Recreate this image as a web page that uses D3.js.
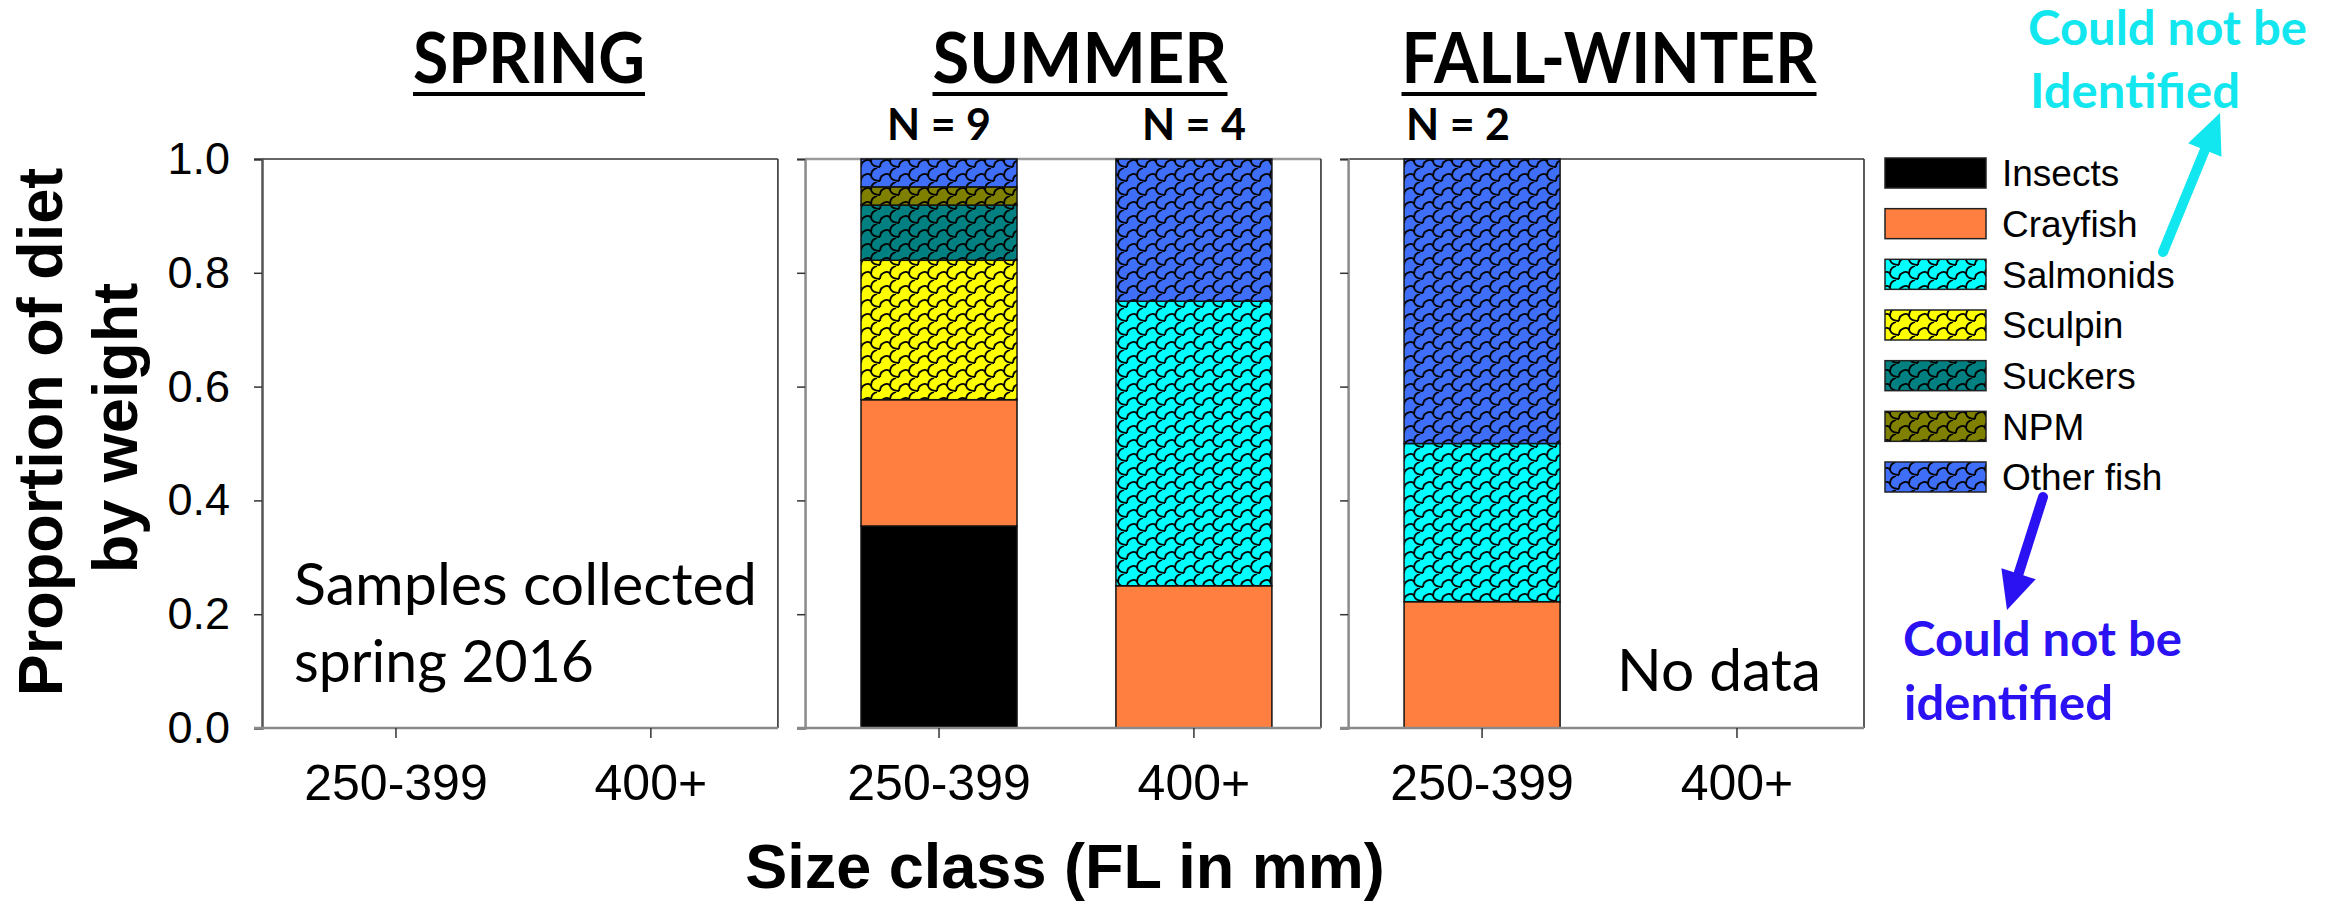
<!DOCTYPE html>
<html>
<head>
<meta charset="utf-8">
<script src="https://cdn.jsdelivr.net/npm/d3@7"></script>
<style>
  body { margin: 0; background: #fff; }
  svg { display: block; }
</style>
</head>
<body>
<svg id="chart" width="2336" height="903"></svg>
<script>
// ---- data ----
const seasons = ["SPRING", "SUMMER", "FALL-WINTER"];
const sizeClasses = ["250-399", "400+"];
const preyTypes = ["Insects", "Crayfish", "Salmonids", "Sculpin", "Suckers", "NPM", "Other fish"];
const preyColors = ["#000000", "#ff7f40", "#00ffff", "#ffff00", "#008080", "#808000", "#3f6ef8"];
const preyPatterned = [false, false, true, true, true, true, true];
const yTicks = [0, 0.2, 0.4, 0.6, 0.8, 1.0];

// proportion of diet by weight, in preyTypes order
const summerSmall = [0.355, 0.222, 0, 0.245, 0.097, 0.032, 0.049];
const summerLarge = [0, 0.25, 0.50, 0, 0, 0, 0.25];
const fallSmall   = [0, 0.222, 0.278, 0, 0, 0, 0.50];

const barSeasons = ["SUMMER", "SUMMER", "FALL-WINTER"];
const barSizes   = ["250-399", "400+", "250-399"];
const barValues  = [summerSmall, summerLarge, fallSmall];
const barN       = [9, 4, 2];

// ---- layout ----
const svg = d3.select("#chart");
const plotTop = 159, plotBottom = 728;
const sansChart = "'Liberation Sans', Arial, sans-serif";
const sansText = "Lato, 'Open Sans', sans-serif";

const panelX = d3.scaleBand().domain(seasons).range([262, 1864]).paddingInner(0.05);
const pw = panelX.bandwidth();
const x = d3.scaleBand().domain(sizeClasses).range([0, pw])
  .paddingInner(0.388).paddingOuter(0.206).align(0.533);
const y = d3.scaleLinear().domain([0, 1]).range([plotBottom, plotTop]);

// fish-scale fill patterns
const defs = svg.append("defs");
preyTypes.forEach((p, i) => {
  if (!preyPatterned[i]) return;
  const pat = defs.append("pattern").attr("id", "scale" + i)
    .attr("patternUnits", "userSpaceOnUse").attr("width", 19).attr("height", 14);
  pat.append("rect").attr("width", 19).attr("height", 14).attr("fill", preyColors[i]);
  pat.append("path")
    .attr("d", "M-1,13 C-1,6 8,4 9,8 C10,11 13,13 18,13 M9,8 C9,4 11,1 15,0 M18,13 C18,10 20,7 21,6 M-1,-1 C-1,-3 0,-4 1,-4")
    .attr("fill", "none").attr("stroke", "#000").attr("stroke-width", 1.8);
});
const fillFor = i => preyPatterned[i] ? `url(#scale${i})` : preyColors[i];

// ---- panels ----
const titleCenters = { "SPRING": 529, "SUMMER": 1080, "FALL-WINTER": 1609 };
const titleWidths = { "SPRING": 232, "SUMMER": 295, "FALL-WINTER": 415 };

seasons.forEach((s, si) => {
  const g = svg.append("g").attr("transform", `translate(${panelX(s)},0)`);
  // frame
  g.append("line").attr("x1", 0).attr("x2", pw).attr("y1", plotTop).attr("y2", plotTop)
    .attr("stroke", s === "SUMMER" ? "#9a9a9a" : "#333").attr("stroke-width", s === "SUMMER" ? 2.5 : 1.6);
  g.append("line").attr("x1", pw).attr("x2", pw).attr("y1", plotTop).attr("y2", plotBottom)
    .attr("stroke", "#333").attr("stroke-width", 1.6);

  // bars
  barSeasons.forEach((bs, bi) => {
    if (bs !== s) return;
    const stack = [];
    let acc = 0;
    barValues[bi].forEach((v, k) => { stack.push({ k, y0: acc, y1: acc + v }); acc += v; });
    g.selectAll(null).data(stack.filter(d => d.y1 > d.y0)).join("rect")
      .attr("x", x(barSizes[bi])).attr("width", x.bandwidth())
      .attr("y", d => y(d.y1)).attr("height", d => y(d.y0) - y(d.y1))
      .attr("fill", d => fillFor(d.k)).attr("stroke", "#111").attr("stroke-width", 1.5);
    g.append("text").attr("x", x(barSizes[bi]) + x.bandwidth() / 2 + (barN[bi] === 2 ? -24 : 0))
      .attr("y", 140).attr("text-anchor", "middle")
      .attr("font-family", sansText).attr("font-weight", 700).attr("font-size", 43)
      .text(`N = ${barN[bi]}`);
  });

  // y axis
  const ya = g.append("g").call(d3.axisLeft(y).tickValues(yTicks).tickSize(8).tickPadding(24)
    .tickFormat(si === 0 ? d3.format(".1f") : () => ""));
  ya.select(".domain").attr("stroke", si === 0 ? "#555" : "#8a8a8a").attr("stroke-width", 2.5);
  ya.selectAll(".tick line").attr("stroke", "#333").attr("stroke-width", 1.5);
  ya.selectAll(".tick text").attr("font-family", sansChart).attr("font-size", 45).attr("fill", "#000");

  // x axis
  const xa = g.append("g").attr("transform", `translate(0,${plotBottom})`)
    .call(d3.axisBottom(x).tickSize(10).tickPadding(26).tickSizeOuter(0));
  xa.select(".domain").attr("stroke", "#8a8a8a").attr("stroke-width", 2.5)
    .attr("d", `M-8,0H${pw}`);
  xa.selectAll(".tick line").attr("stroke", "#333").attr("stroke-width", 1.5);
  xa.selectAll(".tick text").attr("font-family", sansChart).attr("font-size", 50).attr("fill", "#000");

  // season title, underlined
  svg.append("text").attr("x", titleCenters[s]).attr("y", 83).attr("text-anchor", "middle")
    .attr("font-family", sansText).attr("font-weight", 700).attr("font-size", 70)
    .attr("textLength", titleWidths[s]).attr("lengthAdjust", "spacingAndGlyphs").text(s);
  svg.append("rect").attr("x", titleCenters[s] - titleWidths[s] / 2).attr("y", 92)
    .attr("width", titleWidths[s]).attr("height", 4).attr("fill", "#000");
});

// ---- panel notes ----
const note = (txt, xx, yy, len) => svg.append("text").attr("x", xx).attr("y", yy)
  .attr("font-family", sansText).attr("font-size", 58).attr("fill", "#000")
  .attr("textLength", len).attr("lengthAdjust", "spacingAndGlyphs").text(txt);
note("Samples collected", 294, 605, 463);
note("spring 2016", 294, 682, 300);
note("No data", 1617, 691, 204);

// ---- axis titles ----
const yTitle = svg.append("g").attr("font-family", sansChart).attr("font-weight", 700)
  .attr("font-size", 63).attr("text-anchor", "middle");
yTitle.append("text").attr("transform", "translate(62,432) rotate(-90)").text("Proportion of diet");
yTitle.append("text").attr("transform", "translate(137,428) rotate(-90)").text("by weight");
svg.append("text").attr("x", 1065).attr("y", 888).attr("text-anchor", "middle")
  .attr("font-family", sansChart).attr("font-weight", 700).attr("font-size", 63)
  .text("Size class (FL in mm)");

// ---- legend ----
const legY = d3.scalePoint().domain(preyTypes).range([158, 462]);
const leg = svg.append("g");
leg.selectAll("rect").data(preyTypes).join("rect")
  .attr("x", 1885).attr("y", d => legY(d)).attr("width", 101).attr("height", 30)
  .attr("fill", (d, i) => fillFor(i)).attr("stroke", "#222").attr("stroke-width", 1.5);
leg.selectAll("text").data(preyTypes).join("text")
  .attr("x", 2002).attr("y", d => legY(d) + 15).attr("dy", "0.36em")
  .attr("font-family", sansChart).attr("font-size", 37).text(d => d);

// ---- annotations ----
function arrow(x1, y1, x2, y2, color, w, headLen, headW) {
  const dx = x2 - x1, dy = y2 - y1, L = Math.hypot(dx, dy);
  const ux = dx / L, uy = dy / L;
  const bx = x2 - ux * headLen, by = y2 - uy * headLen;
  svg.append("line").attr("x1", x1).attr("y1", y1).attr("x2", bx + ux * 2).attr("y2", by + uy * 2)
    .attr("stroke", color).attr("stroke-width", w).attr("stroke-linecap", "round");
  svg.append("path").attr("fill", color)
    .attr("d", `M${x2},${y2}L${bx - uy * headW / 2},${by + ux * headW / 2}L${bx + uy * headW / 2},${by - ux * headW / 2}Z`);
}
const cyan = "#12e6ee", blue = "#2a12f2";
arrow(2163, 252, 2220, 113, cyan, 10, 40, 36);
arrow(2043, 497, 2007, 610, blue, 10, 38, 36);

const ann = (txt, xx, yy, len, color) => svg.append("text").attr("x", xx).attr("y", yy)
  .attr("font-family", sansText).attr("font-weight", 700).attr("font-size", 47).attr("fill", color)
  .attr("textLength", len).attr("lengthAdjust", "spacingAndGlyphs").text(txt);
ann("Could not be", 2028, 45, 279, cyan);
ann("Identified", 2030, 108, 210, cyan);
ann("Could not be", 1903, 656, 279, blue);
ann("identified", 1904, 720, 209, blue);
</script>
</body>
</html>
